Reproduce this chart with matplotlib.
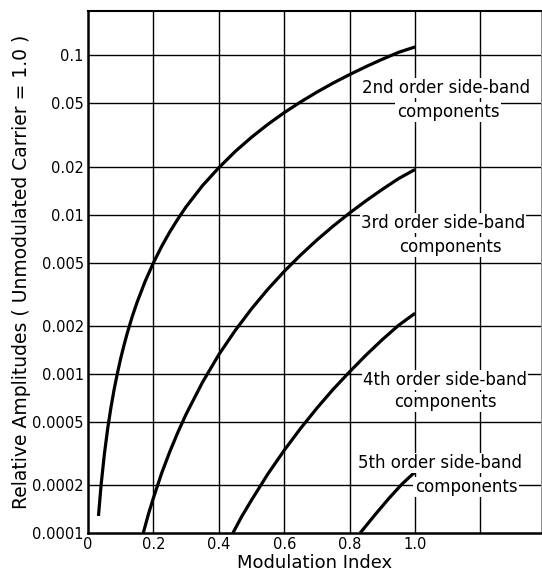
import matplotlib
matplotlib.use("Agg")
import matplotlib.pyplot as plt
from matplotlib.ticker import FixedLocator, NullLocator

# Values (modulation index, relative amplitude)
m2 = [0.032, 0.04, 0.05, 0.06, 0.07, 0.08, 0.09, 0.1, 0.11, 0.12, 0.135,
      0.15, 0.175, 0.2, 0.225, 0.25, 0.275, 0.3, 0.35, 0.4, 0.45, 0.5, 0.55,
      0.6, 0.65, 0.7, 0.75, 0.8, 0.85, 0.9, 0.95, 1.0]
a2 = [0.000128, 0.0002, 0.000312, 0.00045, 0.000612, 0.0008, 0.00101,
      0.00125, 0.00151, 0.0018, 0.00228, 0.00281, 0.00382, 0.00498, 0.0063,
      0.00778, 0.0094, 0.0112, 0.0152, 0.0197, 0.0249, 0.0306, 0.0369,
      0.0437, 0.051, 0.0588, 0.0671, 0.0758, 0.085, 0.0946, 0.1046, 0.113]

m3 = [0.169, 0.185, 0.2, 0.225, 0.25, 0.275, 0.3, 0.35, 0.4, 0.45, 0.5,
      0.55, 0.6, 0.65, 0.7, 0.75, 0.8, 0.85, 0.9, 0.95, 1.0]
a3 = [0.0001, 0.000132, 0.000166, 0.000237, 0.000324, 0.00043, 0.000558,
      0.000884, 0.00132, 0.00187, 0.00256, 0.0034, 0.0044, 0.00557, 0.00693,
      0.00848, 0.01024, 0.01221, 0.01441, 0.01685, 0.0192]

m4 = [0.443, 0.47, 0.5, 0.55, 0.6, 0.65, 0.7, 0.75, 0.8, 0.85, 0.9, 0.95, 1.0]
a4 = [0.0001, 0.000127, 0.000161, 0.000235, 0.000331, 0.000454, 0.000609,
      0.000801, 0.00103, 0.00131, 0.00164, 0.00202, 0.0024]

m5 = [0.832, 0.88, 0.92, 0.96, 1.0]
a5 = [0.0001, 0.000132, 0.000165, 0.000203, 0.000242]

yticks = [0.0001, 0.0002, 0.0005, 0.001, 0.002, 0.005, 0.01, 0.02, 0.05, 0.1]
ytick_labels = ["0.0001", "0.0002", "0.0005", "0.001", "0.002", "0.005",
                "0.01", "0.02", "0.05", "0.1"]
xgrid = [0.2, 0.4, 0.6, 0.8, 1.0, 1.2]
xticks = [0, 0.2, 0.4, 0.6, 0.8, 1.0]
xtick_labels = ["0", "0.2", "0.4", "0.6", "0.8", "1.0"]

fig = plt.figure(figsize=(5.42, 5.81), dpi=100)
ax = fig.add_axes([88 / 542, 48 / 581, 453 / 542, 522 / 581])
ax.set_yscale("log")
ax.set_xlim(0, 1.385)
ax.set_ylim(0.0001, 0.19)

# grid
for x in xgrid:
    ax.axvline(x, color="black", lw=1.0, zorder=1)
for y in yticks[1:]:
    ax.axhline(y, color="black", lw=1.0, zorder=1)

for m, a in [(m2, a2), (m3, a3), (m4, a4), (m5, a5)]:
    ax.plot(m, a, color="black", lw=2.3, zorder=3, solid_capstyle="butt")

ax.yaxis.set_major_locator(FixedLocator(yticks))
ax.yaxis.set_minor_locator(NullLocator())
ax.set_yticklabels(ytick_labels)
ax.set_xticks(xticks)
ax.set_xticklabels(xtick_labels)
ax.tick_params(axis="both", length=0, labelsize=10.5, pad=3)

for side in ["left", "bottom"]:
    ax.spines[side].set_linewidth(1.8)
ax.spines["top"].set_linewidth(1.5)
ax.spines["right"].set_linewidth(0.6)
ax.spines["right"].set_color("#777777")

ax.set_xlabel("Modulation Index", fontsize=13, labelpad=1)
ax.set_ylabel("Relative Amplitudes ( Unmodulated Carrier = 1.0 )",
              fontsize=13.5, labelpad=1)

# curve labels, positioned in figure pixels of the reference
box = dict(facecolor="white", edgecolor="none", pad=1.0)
labels = [
    ("2nd order side-band", 446, 88),
    ("components", 448, 112),
    ("3rd order side-band", 443, 223),
    ("components", 450, 247),
    ("4th order side-band", 445, 380),
    ("components", 445, 402),
    ("5th order side-band", 440, 463),
    ("components", 466, 487),
]
for txt, px, py in labels:
    fig.text(px / 542, 1 - py / 581, txt, ha="center", va="center",
             fontsize=12, bbox=box, zorder=4)

fig.savefig("out.png", dpi=100)
